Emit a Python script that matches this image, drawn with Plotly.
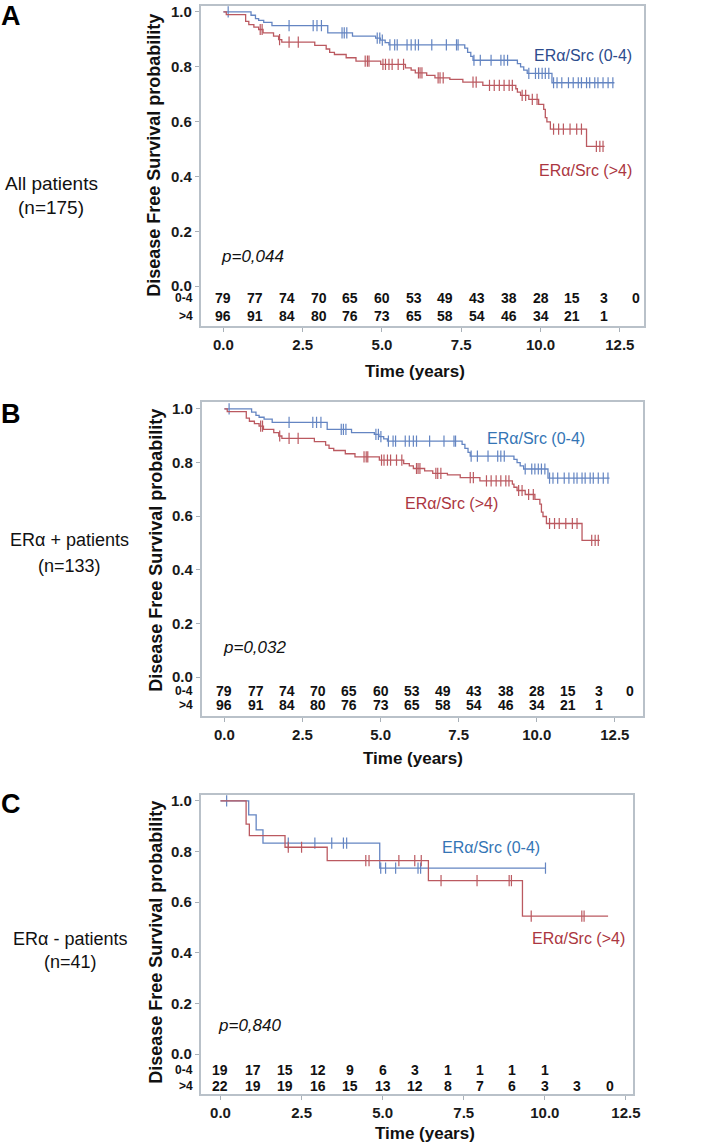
import plotly.graph_objects as go

W, H = 705, 1145

# ---------------- data: panels A and B (same curves) ----------------
ab_low_t = [0, 0.87, 1.01, 1.11, 1.27, 1.53, 3.29, 4.07, 4.80, 4.95, 5.10, 5.22,
            7.61, 7.70, 7.80, 7.87, 9.27, 9.37, 9.47, 9.58, 10.36]
ab_low_s = [1.0, 0.988, 0.976, 0.969, 0.962, 0.950, 0.924, 0.912, 0.905, 0.897, 0.888, 0.880,
            0.868, 0.853, 0.838, 0.824, 0.812, 0.800, 0.788, 0.776, 0.742]
ab_low_end = 12.33
ab_low_cens = [0.15, 2.07, 2.83, 2.95, 3.09, 3.74, 3.81, 3.89, 4.85, 4.93, 5.01, 5.25, 5.40,
               5.48, 5.79, 5.92, 6.05, 6.15, 6.57, 7.03, 7.35, 7.40, 7.90, 8.10, 8.44, 8.75,
               8.85, 8.96, 9.63, 9.84, 9.94, 10.05, 10.15, 10.26, 10.41, 10.52, 10.67, 10.88,
               11.03, 11.19, 11.29, 11.45, 11.55, 11.71, 11.81, 11.97, 12.13, 12.28]

ab_high_t = [0, 0.09, 0.70, 0.80, 0.96, 1.11, 1.25, 1.58, 1.74, 1.84, 2.88, 3.24, 3.35, 3.50,
             3.87, 4.18, 4.96, 5.74, 5.92, 6.05, 6.41, 6.67, 7.14, 7.55, 8.18, 9.22, 9.27,
             9.37, 9.63, 9.94, 10.10, 10.15, 10.20, 10.31, 11.45]
ab_high_s = [1.0, 0.990, 0.966, 0.954, 0.945, 0.936, 0.924, 0.912, 0.899, 0.890, 0.878, 0.865,
             0.853, 0.845, 0.833, 0.821, 0.809, 0.796, 0.788, 0.778, 0.769, 0.760, 0.754,
             0.744, 0.732, 0.720, 0.708, 0.696, 0.681, 0.663, 0.645, 0.615, 0.599, 0.573, 0.510]
ab_high_end = 12.02
ab_high_cens = [1.16, 1.22, 1.77, 2.07, 2.36, 4.47, 4.54, 4.59, 5.03, 5.11, 5.22, 5.32, 5.51,
                5.68, 6.15, 6.20, 6.26, 6.77, 6.83, 6.93, 7.87, 7.97, 8.39, 8.54, 8.70, 8.85,
                9.01, 9.11, 9.42, 9.53, 9.74, 9.89, 10.41, 10.57, 10.72, 10.93, 11.14, 11.29,
                11.76, 11.87, 11.97]

# ---------------- data: panel C ----------------
c_low_t = [0, 0.87, 1.10, 1.31, 4.91]
c_low_s = [1.0, 0.945, 0.886, 0.833, 0.735]
c_low_end = 10.02
c_low_cens = [0.19, 2.09, 2.91, 3.43, 3.79, 3.89, 4.94, 5.09, 5.40, 6.09, 6.17, 10.02]

c_high_t = [0, 0.79, 0.89, 1.99, 3.29, 6.41, 9.31]
c_high_s = [1.0, 0.908, 0.863, 0.817, 0.764, 0.685, 0.545]
c_high_end = 11.95
c_high_cens = [2.09, 2.50, 4.48, 4.58, 5.50, 5.99, 6.19, 6.80, 7.91, 8.90, 8.97, 9.58, 11.14, 11.21]

# ---------------- numbers at risk ----------------
risk_years = list(range(14))
ab_risk_low = [79, 77, 74, 70, 65, 60, 53, 49, 43, 38, 28, 15, 3, 0]
ab_risk_high = [96, 91, 84, 80, 76, 73, 65, 58, 54, 46, 34, 21, 1]
c_risk_low = [19, 17, 15, 12, 9, 6, 3, 1, 1, 1, 1]
c_risk_high = [22, 19, 19, 16, 15, 13, 12, 8, 7, 6, 3, 3, 0]

p_values = ["p=0,044", "p=0,032", "p=0,840"]
group_titles = [("All patients", "(n=175)"), ("ERα + patients", "(n=133)"),
                ("ERα - patients", "(n=41)")]
panel_letters = ["A", "B", "C"]
x_ticks = [0, 2.5, 5, 7.5, 10, 12.5]
y_ticks = [0, 0.2, 0.4, 0.6, 0.8, 1.0]

# ---------------- styling ----------------
BLUE_LINE = "#6485c2"
RED_LINE = "#bb5960"
SANS = "Liberation Sans, Arial, sans-serif"
FRAME = "#b9c1c9"

panels = [
    dict(frame=(203, 651, 3, 324), xr=(-0.717, 13.25), yr=(-0.1455, 1.0218),
         low=(ab_low_t, ab_low_s, ab_low_end, ab_low_cens),
         high=(ab_high_t, ab_high_s, ab_high_end, ab_high_cens),
         risk=(ab_risk_low, ab_risk_high), rows=(296, 314),
         lab_low=(590, 53, "#2d4c8d"), lab_high=(592, 168, "#ab3641"),
         pv=(255, 254), title_y=369, title_x=420, ytitle=(155, 153),
         letter=(11, 13), group=(52, 181, 205, 19)),
    dict(frame=(204, 650, 400, 715), xr=(-0.728, 13.39), yr=(-0.145, 1.026),
         low=(ab_low_t, ab_low_s, ab_low_end, ab_low_cens),
         high=(ab_high_t, ab_high_s, ab_high_end, ab_high_cens),
         risk=(ab_risk_low, ab_risk_high), rows=(690, 704),
         lab_low=(542, 437, "#3475b5"), lab_high=(457, 502, "#ab3641"),
         pv=(257, 646), title_y=757, title_x=418, ytitle=(157, 549),
         letter=(11, 412), group=(70, 538, 564, 18)),
    dict(frame=(203, 640, 794, 1094), xr=(-0.61, 12.71), yr=(-0.1575, 1.0236),
         low=(c_low_t, c_low_s, c_low_end, c_low_cens),
         high=(c_high_t, c_high_s, c_high_end, c_high_cens),
         risk=(c_risk_low, c_risk_high), rows=(1070, 1086),
         lab_low=(497, 847, "#3475b5"), lab_high=(585, 938, "#ab3641"),
         pv=(252, 1025), title_y=1133, title_x=430, ytitle=(157, 942),
         letter=(11, 803), group=(71, 938, 962, 18)),
]


def px(x):
    return x / W


def py(y):
    return 1 - y / H


def surv_at(t, times, vals):
    v = vals[0]
    for ti, vi in zip(times, vals):
        if ti <= t:
            v = vi
    return v


fig = go.Figure()
annotations = []
layout_axes = {}

for i, p in enumerate(panels):
    n = "" if i == 0 else str(i + 1)
    xa, ya = "x" + n, "y" + n
    l, r, t, b = p["frame"]
    axis_common = dict(showline=True, mirror=True, linecolor=FRAME, linewidth=1.6,
                       showgrid=False, zeroline=False, ticks="outside", ticklen=4,
                       tickcolor="#a8b0b8", tickwidth=1,
                       tickfont=dict(family=SANS, size=15, color="#1a1a1a", weight="bold"))
    layout_axes["xaxis" + n] = dict(axis_common, domain=[px(l), px(r)], range=list(p["xr"]),
                                    anchor=ya, tickvals=x_ticks,
                                    ticktext=[f"{v:.1f}" for v in x_ticks])
    layout_axes["yaxis" + n] = dict(axis_common, domain=[py(b), py(t)], range=list(p["yr"]),
                                    anchor=xa, tickvals=y_ticks,
                                    ticktext=[f"{v:.1f}" for v in y_ticks])

    for key, color in (("low", BLUE_LINE), ("high", RED_LINE)):
        times, vals, end, cens = p[key]
        fig.add_trace(go.Scatter(x=list(times) + [end], y=list(vals) + [vals[-1]],
                                 mode="lines", line=dict(color=color, width=1.3, shape="hv"),
                                 xaxis=xa, yaxis=ya, hoverinfo="skip"))
        fig.add_trace(go.Scatter(x=cens, y=[surv_at(c, times, vals) for c in cens],
                                 mode="markers",
                                 marker=dict(symbol="line-ns", size=8,
                                             line=dict(color=color, width=1.2)),
                                 xaxis=xa, yaxis=ya, hoverinfo="skip"))

    # numbers at risk
    low_r, high_r = p["risk"]
    for row_y, counts, lab in ((p["rows"][0], low_r, "0-4"), (p["rows"][1], high_r, ">4")):
        for yr_, cnt in zip(risk_years, counts):
            annotations.append(dict(x=yr_, y=py(row_y), xref=xa, yref="paper", text=str(cnt),
                                    showarrow=False, xanchor="center", yanchor="middle",
                                    font=dict(family=SANS, size=14, color="#111",
                                              weight="bold")))
        annotations.append(dict(x=px(197), y=py(row_y), xref="paper", yref="paper", text=lab,
                                showarrow=False, xanchor="right", yanchor="middle",
                                font=dict(family=SANS, size=12, color="#111", weight="bold")))

    # curve labels
    for key, txt in (("lab_low", "ERα/Src (0-4)"), ("lab_high", "ERα/Src (>4)")):
        lx, ly, lc = p[key]
        annotations.append(dict(x=px(lx), y=py(ly), xref="paper", yref="paper", text=txt,
                                showarrow=False, xanchor="center", yanchor="middle",
                                font=dict(family=SANS, size=16, color=lc)))
    # p-value
    annotations.append(dict(x=px(p["pv"][0]), y=py(p["pv"][1]), xref="paper", yref="paper",
                            text="<i>" + p_values[i] + "</i>", showarrow=False,
                            xanchor="center", yanchor="middle",
                            font=dict(family=SANS, size=17, color="#111")))
    # x title
    annotations.append(dict(x=px(p["title_x"]), y=py(p["title_y"]), xref="paper", yref="paper",
                            text="Time (years)", showarrow=False, xanchor="center",
                            yanchor="middle",
                            font=dict(family=SANS, size=17, color="#111", weight="bold")))
    # y title
    annotations.append(dict(x=px(p["ytitle"][0]), y=py(p["ytitle"][1]), xref="paper",
                            yref="paper", text="Disease Free Survival probability",
                            textangle=-90, showarrow=False, xanchor="center", yanchor="middle",
                            font=dict(family=SANS, size=18, color="#111", weight="bold")))
    # panel letter
    annotations.append(dict(x=px(p["letter"][0]), y=py(p["letter"][1]), xref="paper",
                            yref="paper", text=panel_letters[i], showarrow=False,
                            xanchor="center", yanchor="middle",
                            font=dict(family=SANS, size=27, color="#000", weight="bold")))
    # group title
    gx, gy1, gy2, gs = p["group"]
    for txt, gy in ((group_titles[i][0], gy1), (group_titles[i][1], gy2)):
        annotations.append(dict(x=px(gx), y=py(gy), xref="paper", yref="paper", text=txt,
                                showarrow=False, xanchor="center", yanchor="middle",
                                font=dict(family=SANS, size=gs, color="#111")))

fig.update_layout(width=W, height=H, margin=dict(l=0, r=0, t=0, b=0),
                  paper_bgcolor="white", plot_bgcolor="white", showlegend=False,
                  annotations=annotations, **layout_axes)

fig.write_html("out.html", config={"displayModeBar": False},
               post_script="document.body.style.margin='0';document.body.style.overflow='hidden';")
